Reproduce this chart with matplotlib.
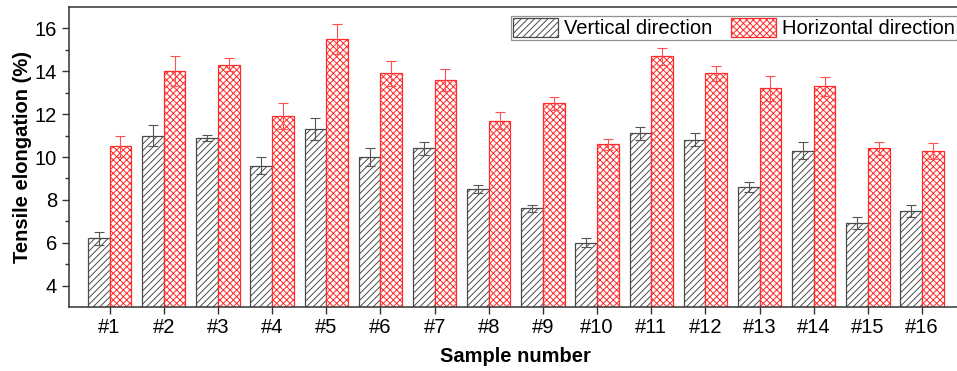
import numpy as np
import matplotlib
matplotlib.use("Agg")
import matplotlib.pyplot as plt

# data
samples = ["#%d" % i for i in range(1, 17)]
vertical = [6.2, 11.0, 10.9, 9.6, 11.3, 10.0, 10.4, 8.5, 7.6, 6.0, 11.1, 10.8, 8.6, 10.3, 6.9, 7.5]
vertical_err = [0.3, 0.5, 0.15, 0.4, 0.5, 0.4, 0.3, 0.2, 0.15, 0.2, 0.3, 0.3, 0.25, 0.4, 0.28, 0.28]
horizontal = [10.5, 14.0, 14.3, 11.9, 15.5, 13.9, 13.6, 11.7, 12.5, 10.6, 14.7, 13.9, 13.2, 13.3, 10.4, 10.3]
horizontal_err = [0.5, 0.7, 0.3, 0.6, 0.7, 0.6, 0.5, 0.4, 0.3, 0.25, 0.4, 0.35, 0.6, 0.45, 0.3, 0.37]

plt.rcParams["font.family"] = ["Liberation Sans", "DejaVu Sans"]
plt.rcParams["hatch.linewidth"] = 0.7

fig = plt.figure(figsize=(9.57, 3.71), dpi=100)
ax = fig.add_axes([0.072, 0.1725, 0.934, 0.8085])

x = np.arange(1, len(samples) + 1)
w = 0.4
gray = "#4a4a4a"
red = "#ff2a2a"
fs = 14.5

ax.bar(x - w / 2, vertical, w, color="white", edgecolor=gray, hatch="/////",
       linewidth=0.9, label="Vertical direction", zorder=2)
ax.bar(x + w / 2, horizontal, w, color="white", edgecolor=red, hatch="xxxxx",
       linewidth=0.9, label="Horizontal direction", zorder=2)

ax.errorbar(x - w / 2, vertical, yerr=vertical_err, fmt="none", ecolor="#555555",
            elinewidth=0.8, capsize=3.5, capthick=0.8, zorder=3)
ax.errorbar(x + w / 2, horizontal, yerr=horizontal_err, fmt="none", ecolor="#ff5050",
            elinewidth=0.8, capsize=3.5, capthick=0.8, zorder=3)

ax.set_xlim(0.25, 16.75)
ax.set_ylim(3, 17)
ax.set_xticks(x)
ax.set_xticklabels(samples)
ax.set_yticks([4, 6, 8, 10, 12, 14, 16])
ax.set_yticks([5, 7, 9, 11, 13, 15], minor=True)

for s in ax.spines.values():
    s.set_linewidth(1.1)
    s.set_color("#333333")
ax.tick_params(axis="both", which="major", direction="out", length=5, width=1,
               labelsize=fs, color="#333333")
ax.tick_params(axis="y", which="minor", direction="out", length=3, width=1, color="#333333")
ax.tick_params(axis="x", which="major", pad=3)

ax.set_xlabel("Sample number", fontsize=fs, fontweight="bold", labelpad=7)
ax.set_ylabel("Tensile elongation (%)", fontsize=fs, fontweight="bold", labelpad=2)

leg = ax.legend(loc="upper right", bbox_to_anchor=(0.9935, 0.971), ncol=2, fontsize=fs,
                frameon=True, fancybox=False, borderpad=0.1, handlelength=2.25,
                handleheight=1.1, columnspacing=0.9, handletextpad=0.3, borderaxespad=0)
leg.get_frame().set_edgecolor("#777777")
leg.get_frame().set_linewidth(0.9)

fig.savefig("out.png", dpi=100)
